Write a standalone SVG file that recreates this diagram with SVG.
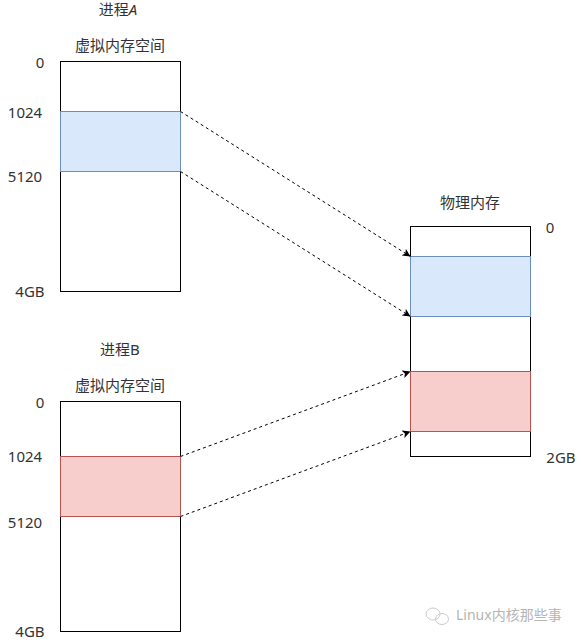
<svg xmlns="http://www.w3.org/2000/svg" width="581" height="642" viewBox="0 0 581 642">
<style>
.box{fill:#fff;stroke:#000;stroke-width:1}
.blue{fill:#dae8fc;stroke:#6c8ebf;stroke-width:1}
.red{fill:#f8cecc;stroke:#b85450;stroke-width:1}
.c{stroke:#000;stroke-width:1;stroke-dasharray:3 3;fill:none;marker-end:url(#a)}
text{font-family:"Noto Sans","Noto Sans CJK SC",sans-serif;font-size:15px;fill:#333;text-anchor:middle}
.wm{fill:#b5b5b5;font-size:14px;text-anchor:start}
.ic{fill:none;stroke:#ccc;stroke-width:1}
</style>
<defs><marker id="a" markerUnits="userSpaceOnUse" markerWidth="10" markerHeight="10" refX="8" refY="4" orient="auto"><path d="M0 0L8 4L0 8L2 4Z" fill="#000"/></marker></defs>
<rect width="581" height="642" fill="#fff"/>
<g id="procA">
<text x="118" y="15">进程<tspan font-style="italic">A</tspan></text>
<text x="120" y="51">虚拟内存空间</text>
<rect class="box" x="60.500" y="61.500" width="120" height="230"/>
<rect class="blue" x="60.500" y="111.500" width="120" height="60"/>
<text x="40" y="68">0</text><text x="25" y="118">1024</text><text x="25" y="182">5120</text><text x="30" y="297">4GB</text>
</g>
<g id="procB">
<text x="120" y="355">进程B</text>
<text x="120" y="391">虚拟内存空间</text>
<rect class="box" x="60.500" y="401.500" width="120" height="230"/>
<rect class="red" x="60.500" y="456.500" width="120" height="60"/>
<text x="40" y="408">0</text><text x="25" y="462">1024</text><text x="25" y="528">5120</text><text x="30" y="637">4GB</text>
</g>
<g id="phys">
<text x="470" y="208">物理内存</text>
<rect class="box" x="410.500" y="226.500" width="120" height="230"/>
<rect class="blue" x="410.500" y="256.500" width="120" height="60"/>
<rect class="red" x="410.500" y="371.500" width="120" height="60"/>
<text x="550" y="233">0</text><text x="561" y="463">2GB</text>
</g>
<g id="connectors">
<path class="c" d="M180.500 111.500L410.500 256.500"/>
<path class="c" d="M180.500 171.500L410.500 316.500"/>
<path class="c" d="M180.500 456.500L410.500 371.500"/>
<path class="c" d="M180.500 516.500L410.500 431.500"/>
</g>
<g id="watermark">
<ellipse class="ic" cx="433" cy="614" rx="7" ry="6"/>
<ellipse class="ic" cx="442" cy="619" rx="6.500" ry="5.500"/>
<text class="wm" x="456" y="620">Linux内核那些事</text>
</g>
</svg>
